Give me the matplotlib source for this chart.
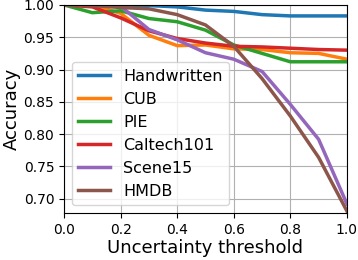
import matplotlib
matplotlib.use("Agg")
import matplotlib.pyplot as plt

thresholds = [0.0, 0.1, 0.2, 0.3, 0.4, 0.5, 0.6, 0.7, 0.8, 0.9, 1.0]
handwritten = [1.000, 1.000, 1.000, 0.999, 0.997, 0.992, 0.990, 0.985, 0.983, 0.983, 0.983]
cub = [1.000, 1.000, 0.987, 0.953, 0.937, 0.938, 0.932, 0.931, 0.926, 0.925, 0.916]
pie = [1.000, 0.988, 0.991, 0.979, 0.974, 0.961, 0.938, 0.925, 0.912, 0.912, 0.912]
caltech = [1.000, 0.997, 0.980, 0.960, 0.948, 0.941, 0.936, 0.935, 0.933, 0.931, 0.930]
scene15 = [1.000, 1.000, 0.998, 0.962, 0.946, 0.926, 0.916, 0.897, 0.846, 0.792, 0.692]
hmdb = [1.000, 0.999, 0.996, 0.994, 0.985, 0.969, 0.936, 0.886, 0.828, 0.764, 0.681]

series = [("Handwritten", handwritten), ("CUB", cub), ("PIE", pie),
          ("Caltech101", caltech), ("Scene15", scene15), ("HMDB", hmdb)]
colors = ["#1f77b4", "#ff7f0e", "#2ca02c", "#d62728", "#9467bd", "#8c564b"]

fig = plt.figure(figsize=(3.58, 2.60), dpi=100)
ax = fig.add_axes([0.179, 0.181, 0.790, 0.800])
for (name, vals), c in zip(series, colors):
    ax.plot(thresholds, vals, color=c, lw=2.5, label=name)

ax.set_xlim(0.0, 1.0)
ax.set_ylim(0.678, 1.0)
ax.set_xticks([0.0, 0.2, 0.4, 0.6, 0.8, 1.0])
ax.set_yticks([0.70, 0.75, 0.80, 0.85, 0.90, 0.95, 1.00])
ax.tick_params(labelsize=10)
ax.grid(True, color="#b0b0b0", lw=0.8)
ax.set_xlabel("Uncertainty threshold", fontsize=13, labelpad=2)
ax.set_ylabel("Accuracy", fontsize=13, labelpad=2)
ax.legend(loc="lower left", fontsize=11.5)
fig.savefig("out.png", dpi=100)
